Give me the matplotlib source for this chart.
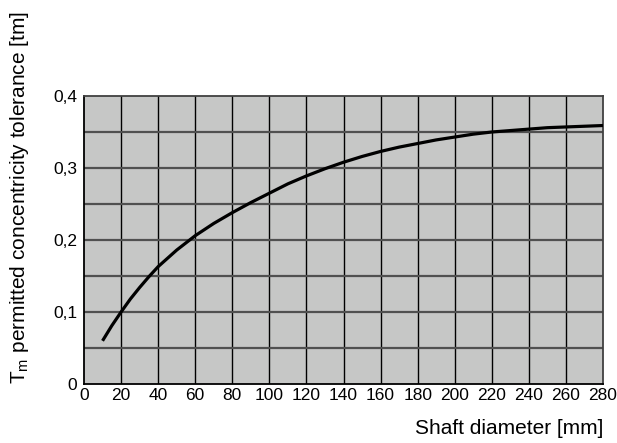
import matplotlib
matplotlib.use('Agg')
import matplotlib.pyplot as plt
import numpy as np

plt.rcParams['font.family'] = ['Liberation Sans', 'DejaVu Sans']
plt.rcParams['mathtext.fontset'] = 'custom'
plt.rcParams['mathtext.rm'] = 'Liberation Sans'

# values
diameter = [10, 15, 20, 25, 30, 35, 40, 50, 60, 70, 80, 90, 100, 110, 120, 130, 140,
            150, 160, 170, 180, 190, 200, 210, 220, 230, 240, 250, 260, 270, 280]
tolerance = [0.060, 0.081, 0.100, 0.118, 0.134, 0.149, 0.163, 0.186, 0.206, 0.223,
             0.238, 0.252, 0.265, 0.278, 0.289, 0.299, 0.308, 0.316, 0.323, 0.329,
             0.334, 0.339, 0.343, 0.347, 0.350, 0.352, 0.354, 0.356, 0.357, 0.358,
             0.359]

xticks = list(range(0, 281, 20))
yticks = [0, 0.1, 0.2, 0.3, 0.4]
ytick_labels = ['0', '0,1', '0,2', '0,3', '0,4']

fig = plt.figure(figsize=(6.17, 4.43), dpi=100)
ax = fig.add_axes([84/617, 59/443, 519/617, 288/443])
ax.set_facecolor('#c6c7c6')

for x in xticks[1:-1]:
    ax.axvline(x, color='black', lw=1.0, zorder=1)
for y in np.arange(0.05, 0.4, 0.05):
    ax.axhline(y, color='#505050', lw=1.6, zorder=1)

ax.plot(diameter, tolerance, color='black', lw=2.3, zorder=3,
        solid_capstyle='butt', solid_joinstyle='round')

ax.set_xlim(0, 280)
ax.set_ylim(0, 0.4)
ax.set_xticks(xticks)
ax.set_xticklabels([str(v) for v in xticks])
ax.set_yticks(yticks)
ax.set_yticklabels(ytick_labels)
ax.tick_params(length=0, labelsize=12.5)
ax.tick_params(axis='x', pad=3)
ax.tick_params(axis='y', pad=5)

for s in ['left', 'bottom']:
    ax.spines[s].set_color('black')
    ax.spines[s].set_linewidth(1.3)
for s in ['top', 'right']:
    ax.spines[s].set_color('#404040')
    ax.spines[s].set_linewidth(1.3)

fig.text(603/617, 5/443, 'Shaft diameter [mm]', ha='right', va='bottom', fontsize=15)
fig.text(20/617, 0.554, r'T$_\mathrm{m}$ permitted concentricity tolerance [tm]',
         rotation=90, ha='center', va='center', fontsize=15)

fig.savefig('out.png', dpi=100)
